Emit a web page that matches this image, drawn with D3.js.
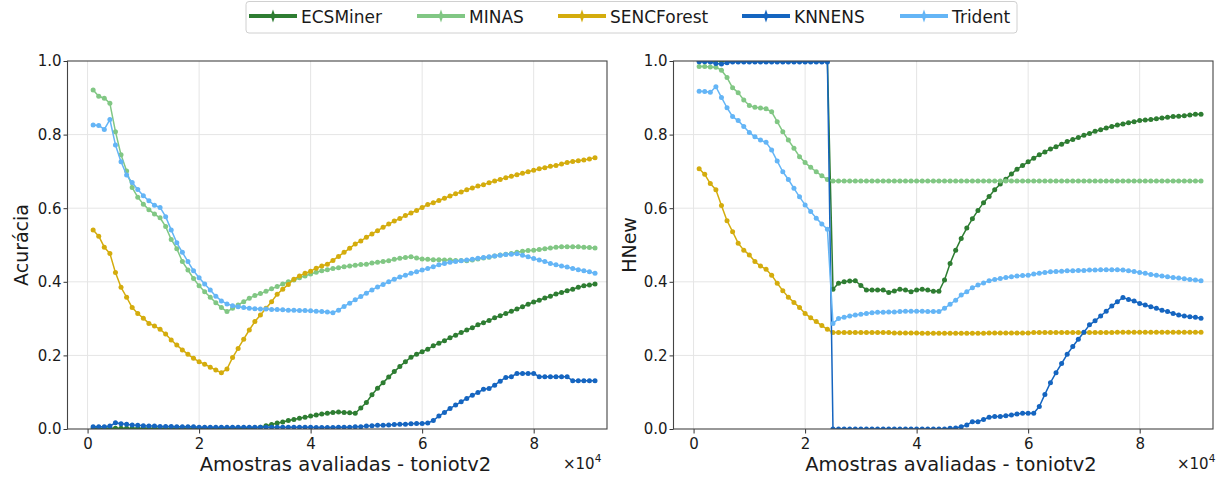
<!DOCTYPE html>
<html><head><meta charset="utf-8">
<script src="https://cdn.jsdelivr.net/npm/d3@7"></script>
<style>
body{margin:0;background:#fff}
svg{display:block}
text{font-family:"DejaVu Sans",sans-serif;fill:#1a1a1a}
</style>
</head><body>
<svg id="c" width="1222" height="481"></svg>
<script>
// ---------- data ----------
const samples = [1000,2000,3000,4000,5000,6000,7000,8000,9000,10000,11000,12000,13000,14000,15000,16000,17000,18000,19000,20000,
21000,22000,23000,24000,25000,26000,27000,28000,29000,30000,31000,32000,33000,34000,35000,36000,37000,38000,39000,40000,
41000,42000,43000,44000,45000,46000,47000,48000,49000,50000,51000,52000,53000,54000,55000,56000,57000,58000,59000,60000,
61000,62000,63000,64000,65000,66000,67000,68000,69000,70000,71000,72000,73000,74000,75000,76000,77000,78000,79000,80000,
81000,82000,83000,84000,85000,86000,87000,88000,89000,90000,91000];
const methods = ["ECSMiner","MINAS","SENCForest","KNNENS","Trident"];
const colors = ["#2e7d32","#81c784","#d4ac0d","#1565c0","#64b5f6"];
const xTickValues = [0,20000,40000,60000,80000];
const xTickLabels = ["0","2","4","6","8"];
const yTickValues = [0,0.2,0.4,0.6,0.8,1.0];
const yTickLabels = ["0.0","0.2","0.4","0.6","0.8","1.0"];
const xLabel = "Amostras avaliadas - toniotv2";
const yLabels = ["Acurácia","HNew"];

// Acurácia
const ecsAcc = [0.002,0.002,0.002,0.002,0.002,0.002,0.002,0.002,0.002,0.002,0.002,0.002,0.002,0.002,0.002,0.002,0.002,0.002,0.002,0.002,
0.002,0.002,0.002,0.002,0.002,0.002,0.002,0.002,0.002,
0.003,0.005,0.009,0.012,0.016,0.019,0.023,0.026,0.029,
0.032,0.035,0.038,0.041,0.043,0.045,0.046,0.045,0.044,0.043,
0.057,0.072,0.093,0.111,0.126,0.141,0.156,0.170,0.183,0.195,0.203,0.210,0.217,0.226,0.233,0.240,0.248,0.255,0.262,0.269,
0.275,0.283,0.289,0.295,0.302,0.308,0.314,0.320,0.326,0.332,0.339,0.345,0.350,0.356,0.361,0.367,0.371,0.376,0.380,0.385,
0.389,0.391,0.394];
const minasAcc = [0.921,0.904,0.899,0.885,0.808,0.745,0.701,0.656,0.630,0.611,0.596,0.584,0.574,0.550,0.515,0.490,
0.455,0.432,0.409,0.389,0.373,0.358,0.343,0.330,0.319,
0.328,0.337,0.346,0.355,0.363,0.368,0.374,0.381,0.387,0.394,0.400,0.405,0.411,0.416,0.421,0.426,0.430,0.433,
0.436,0.438,0.441,0.443,0.445,0.447,0.448,0.451,0.453,0.455,0.457,0.461,0.464,0.466,0.468,
0.465,0.462,0.461,0.460,0.460,0.459,0.459,0.458,0.458,
0.457,0.459,0.462,0.465,0.467,0.470,0.473,0.475,0.477,0.480,0.483,0.485,0.486,0.488,0.490,0.492,0.494,0.495,0.495,0.495,0.495,0.494,0.493,0.492];
const sencAcc = [0.541,0.524,0.494,0.477,0.425,0.385,0.358,0.330,0.314,0.301,
0.287,0.280,0.271,0.258,0.242,0.228,0.215,0.203,0.192,0.183,
0.176,0.168,0.160,0.153,0.163,0.194,0.219,0.244,0.269,0.292,
0.310,0.328,0.346,0.366,0.380,0.393,0.407,0.416,0.423,0.429,
0.437,0.443,0.448,0.458,0.469,0.480,
0.491,0.503,0.511,0.521,0.530,0.539,0.548,0.557,0.565,0.572,
0.580,0.587,0.594,0.602,0.610,0.615,0.621,0.627,0.633,0.639,
0.644,0.650,0.655,0.660,0.664,0.669,0.674,0.678,0.683,0.687,
0.691,0.695,0.699,0.703,0.707,0.710,0.714,0.716,0.720,0.724,
0.727,0.729,0.731,0.734,0.737];
const knnAcc = [0.006,0.006,0.006,0.008,0.017,0.014,0.013,0.011,0.010,0.009,0.008,0.008,0.007,0.007,0.007,0.006,0.006,0.006,0.006,0.005,
0.005,0.005,0.005,0.005,0.005,0.005,0.005,0.005,0.005,0.005,0.005,0.005,0.005,0.005,0.005,0.005,0.005,0.005,0.005,0.005,
0.004,0.004,0.004,0.004,0.005,0.005,0.005,0.006,
0.006,0.008,0.009,0.010,0.010,0.011,0.012,0.013,0.013,0.014,0.015,0.015,0.016,
0.023,0.035,0.045,0.056,0.065,0.074,0.083,0.092,0.099,0.108,0.110,0.119,0.130,0.140,0.142,0.151,0.151,0.151,0.151,0.142,
0.142,0.142,0.142,0.142,0.142,0.131,0.131,0.131,0.131,0.131];
const tridAcc = [0.826,0.825,0.814,0.841,0.772,0.726,0.690,0.670,0.651,0.634,0.620,0.608,0.602,0.577,0.541,0.506,
0.480,0.455,0.430,0.411,0.394,0.378,0.361,0.348,0.340,0.335,0.332,0.330,0.328,
0.327,0.326,0.326,0.325,0.325,0.324,0.323,0.323,0.322,0.322,0.321,0.320,0.319,0.318,
0.316,0.323,0.333,0.342,0.351,0.360,0.369,0.378,0.386,0.393,0.400,0.407,0.413,0.418,0.423,0.427,0.432,0.436,0.441,0.446,
0.450,0.453,0.455,0.457,0.459,0.461,0.464,0.466,0.468,0.470,0.472,0.474,0.475,0.476,0.472,0.468,0.463,0.459,0.455,0.450,
0.446,0.443,0.440,0.436,0.433,0.430,0.427,0.423];

// HNew
const ecsNew = [1,1,1,1,1,1,1,1,1,1,1,1,1,1,1,1,1,1,1,1,1,1,1,1,
0.380,0.396,0.400,0.402,0.403,0.390,0.378,0.378,0.378,0.378,0.371,0.375,0.380,0.378,0.373,0.378,0.380,0.378,0.374,0.374,
0.405,0.450,0.486,0.518,0.546,0.571,0.594,0.615,0.632,0.650,0.666,0.679,0.693,0.706,0.716,0.726,0.736,0.745,0.753,0.761,
0.767,0.774,0.781,0.787,0.792,0.798,0.803,0.809,0.813,0.818,0.822,0.826,0.829,0.832,0.835,0.838,0.840,0.841,0.843,0.845,
0.847,0.849,0.850,0.851,0.853,0.855,0.855];
const minasNew = [0.985,0.985,0.984,0.983,0.975,0.955,0.927,0.914,0.894,0.879,0.874,0.872,0.870,0.862,0.835,0.808,0.785,0.763,0.740,0.724,
0.711,0.699,0.688,0.678,
0.674,0.674,0.674,0.674,0.674,0.674,0.674,0.674,0.674,0.674,0.674,0.674,0.674,0.674,0.674,0.674,0.674,0.674,0.674,0.674,
0.674,0.674,0.674,0.674,0.674,0.674,0.674,0.674,0.674,0.674,0.674,0.674,0.674,0.674,0.674,0.674,0.674,0.674,0.674,0.674,
0.674,0.674,0.674,0.674,0.674,0.674,0.674,0.674,0.674,0.674,0.674,0.674,0.674,0.674,0.674,0.674,0.674,0.674,0.674,0.674,
0.674,0.674,0.674,0.674,0.674,0.674,0.674];
const sencNew = [0.707,0.692,0.667,0.650,0.607,0.566,0.536,0.505,0.486,0.473,0.455,0.443,0.434,0.418,0.396,0.376,0.358,0.344,0.330,0.314,
0.302,0.292,0.281,0.271,0.262,
0.262,0.262,0.262,0.262,0.262,0.262,0.262,0.262,0.262,0.262,
0.261,0.261,0.261,0.261,0.261,
0.260,0.260,0.260,0.260,0.260,0.260,0.260,0.260,0.260,0.260,0.260,0.260,
0.261,0.261,0.261,0.261,0.261,0.261,0.261,0.261,
0.262,0.262,0.262,0.262,0.262,0.262,0.262,0.262,0.262,0.262,0.262,0.262,0.262,0.262,0.262,
0.263,0.263,0.263,0.263,0.263,0.263,0.263,0.263,0.263,0.263,0.263,0.263,0.263,0.263,0.263,0.263];
const knnNew = [0.998,0.998,0.997,0.993,0.992,0.995,0.997,0.997,0.997,0.997,0.997,0.997,0.997,0.997,0.997,0.997,0.997,0.997,0.997,0.997,
0.997,0.997,0.997,0.997,
0,0,0,0,0,0,0,0,0,0,0,0,0,0,0,0,0,0,0,0,0,
0.002,0.003,0.006,0.011,0.020,0.020,0.026,0.032,0.034,0.034,0.036,0.038,0.041,0.043,0.043,0.043,
0.061,0.094,0.126,0.153,0.178,0.203,0.224,0.244,0.263,0.283,0.294,0.307,0.320,0.334,0.346,0.357,0.352,0.348,0.341,0.337,
0.332,0.328,0.323,0.319,0.314,0.310,0.307,0.305,0.304,0.301];
const tridNew = [0.918,0.917,0.915,0.930,0.901,0.873,0.849,0.838,0.822,0.806,0.794,0.785,0.779,0.758,0.728,0.699,0.678,0.654,0.631,0.609,
0.591,0.573,0.557,0.543,
0.287,0.300,0.304,0.307,0.310,0.312,0.314,0.316,0.317,0.317,0.318,0.318,0.319,0.320,0.320,0.320,0.320,0.319,0.319,0.319,
0.328,0.339,0.350,0.364,0.373,0.384,0.391,0.397,0.403,0.406,0.409,0.412,0.414,
0.416,0.417,0.418,0.421,0.423,0.425,0.427,0.428,0.429,0.430,0.430,0.431,0.431,0.432,0.432,0.433,0.433,0.433,0.433,0.432,
0.430,0.428,0.425,0.423,0.420,0.418,0.416,0.414,0.412,0.410,0.408,0.406,0.405,0.403];

// ---------- layout ----------
const svg = d3.select("#c");
const plotW = 539.5, plotTop = 61, plotBottom = 429;
const panels = [
  {left:67.5, ylabel:yLabels[0], series:[ecsAcc,minasAcc,sencAcc,knnAcc,tridAcc], xlabX:345.5, ylabX:28.3, offX:563},
  {left:673.5, ylabel:yLabels[1], series:[ecsNew,minasNew,sencNew,knnNew,tridNew], xlabX:951, ylabX:636, offX:1177}
];

panels.forEach((p,pi)=>{
  const x = d3.scaleLinear().domain([-3600,93150]).range([p.left,p.left+plotW]);
  const y = d3.scaleLinear().domain([0,1]).range([plotBottom,plotTop]);
  const g = svg.append("g");

  // grid
  g.append("g").selectAll("line").data(xTickValues).join("line")
    .attr("x1",d=>x(d)).attr("x2",d=>x(d)).attr("y1",plotTop).attr("y2",plotBottom)
    .attr("stroke","#e5e5e5").attr("stroke-width",1);
  g.append("g").selectAll("line").data(yTickValues.slice(1,-1)).join("line")
    .attr("x1",p.left).attr("x2",p.left+plotW).attr("y1",d=>y(d)).attr("y2",d=>y(d))
    .attr("stroke","#e5e5e5").attr("stroke-width",1);

  // clip
  const cid = "clip"+pi;
  svg.append("clipPath").attr("id",cid).append("rect")
    .attr("x",p.left).attr("y",plotTop).attr("width",plotW).attr("height",plotBottom-plotTop);
  const plot = g.append("g").attr("clip-path",`url(#${cid})`);

  const line = d3.line().x((d,i)=>x(samples[i])).y(d=>y(d));
  p.series.forEach((vals,si)=>{
    const sg = plot.append("g");
    sg.append("path").datum(vals).attr("d",line).attr("fill","none")
      .attr("stroke",colors[si]).attr("stroke-width",1.5).attr("stroke-linejoin","round");
    sg.selectAll("circle").data(vals).join("circle")
      .attr("cx",(d,i)=>x(samples[i])).attr("cy",d=>y(d)).attr("r",2.5)
      .attr("fill",colors[si]);
  });

  // axes
  const xa = d3.axisBottom(x).tickValues(xTickValues).tickFormat((d,i)=>xTickLabels[i]).tickSize(4.5).tickPadding(5);
  const ya = d3.axisLeft(y).tickValues(yTickValues).tickFormat((d,i)=>yTickLabels[i]).tickSize(4).tickPadding(2);
  const gx = g.append("g").attr("transform",`translate(0,${plotBottom})`).call(xa);
  const gy = g.append("g").attr("transform",`translate(${p.left},0)`).call(ya);
  [gx,gy].forEach(a=>{
    a.select(".domain").remove();
    a.selectAll("line").attr("stroke","#333");
    a.selectAll("text").attr("font-size",15).attr("font-family","DejaVu Sans").attr("fill","#1a1a1a");
  });

  // spines
  g.append("rect").attr("x",p.left).attr("y",plotTop).attr("width",plotW).attr("height",plotBottom-plotTop)
    .attr("fill","none").attr("stroke","#444").attr("stroke-width",1.1);

  // labels
  g.append("text").attr("x",p.xlabX).attr("y",471).attr("text-anchor","middle")
    .attr("font-size",19.5).text(xLabel);
  g.append("text").attr("transform",`translate(${p.ylabX},245) rotate(-90)`).attr("text-anchor","middle")
    .attr("font-size",19).text(p.ylabel);
  const off = g.append("text").attr("x",p.offX).attr("y",469).attr("font-size",15);
  off.append("tspan").text("×10");
  off.append("tspan").attr("font-size",10.5).attr("dy",-7).text("4");
});

// ---------- legend ----------
const lg = svg.append("g");
lg.append("rect").attr("x",246).attr("y",1.5).attr("width",771).attr("height",31.5).attr("rx",3)
  .attr("fill","#fff").attr("stroke","#d0d0d0").attr("stroke-width",1);
const legendX = [249,417,558,742,900];
methods.forEach((m,i)=>{
  const lx = legendX[i];
  lg.append("line").attr("x1",lx).attr("x2",lx+48).attr("y1",16).attr("y2",16)
    .attr("stroke",colors[i]).attr("stroke-width",4);
  lg.append("path").attr("d",`M${lx+24},9.5 L${lx+26.3},16 L${lx+24},22.5 L${lx+21.7},16 Z`).attr("fill",colors[i]);
  lg.append("text").attr("x",lx+52).attr("y",22.5).attr("font-size",17).text(m);
});
</script>
</body></html>
